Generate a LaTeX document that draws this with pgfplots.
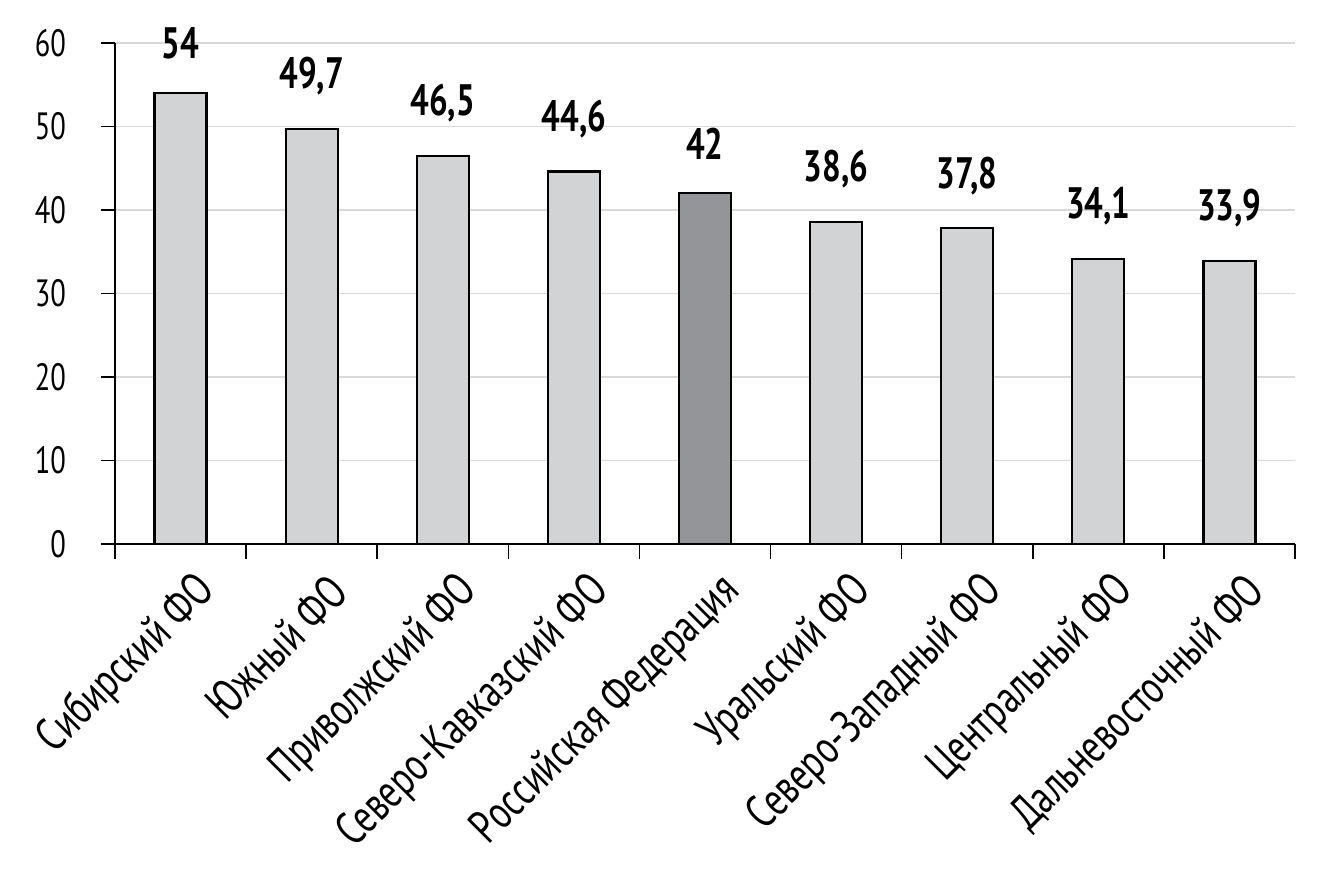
\documentclass[border=0pt]{standalone}
\usepackage{pgfplots}
\pgfplotsset{compat=1.18}
\usepackage{fontspec}
\setmainfont{PT Sans}[FakeStretch=0.75]
\definecolor{barlight}{HTML}{D2D3D5}
\definecolor{bardark}{HTML}{939598}
\definecolor{gridc}{HTML}{D9D9D9}
\begin{document}
\begin{tikzpicture}
\useasboundingbox (-57.5pt,-167.5pt) rectangle (602pt,272pt);
\begin{axis}[
  scale only axis,
  width=590pt, height=250.5pt,
  xmin=-0.5, xmax=8.5,
  ymin=0, ymax=60,
  axis x line*=bottom, axis y line*=left,
  axis line style={line width=0.8pt, -},
  ytick={0,10,...,60},
  ymajorgrids,
  grid style={gridc, line width=0.8pt},
  xtick={0,...,8},
  xticklabels={Сибирский ФО, Южный ФО, Приволжский ФО, Северо-Кавказский ФО, Российская Федерация, Уральский ФО, Северо-Западный ФО, Центральный ФО, Дальневосточный ФО},
  minor xtick={-0.5,0.5,...,8.5},
  x tick style={draw=none},
  minor x tick style={draw=black, line width=0.8pt},
  minor tick length=7.5pt,
  y tick style={black, line width=0.8pt},
  major tick length=7pt,
  tick align=outside,
  /pgf/number format/assume math mode=true,
  yticklabel style={font=\fontsize{19}{22}\selectfont, xshift=-14pt},
  xticklabel style={font=\fontsize{23.5}{26}\selectfont, rotate=45, anchor=east, xshift=4pt, yshift=-19pt},
  ybar, bar width=26pt, bar shift=0pt,
  nodes near coords,
  nodes near coords style={font=\fontsize{22}{25}\selectfont\bfseries, yshift=13pt},
  /pgf/number format/use comma,
  clip=false,
]
\addplot[fill=barlight, draw=black, line width=1.1pt] coordinates {(0,54) (1,49.7) (2,46.5) (3,44.6) (5,38.6) (6,37.8) (7,34.1) (8,33.9)};
\addplot[fill=bardark, draw=black, line width=1.1pt] coordinates {(4,42)};
\end{axis}
\end{tikzpicture}
\end{document}
